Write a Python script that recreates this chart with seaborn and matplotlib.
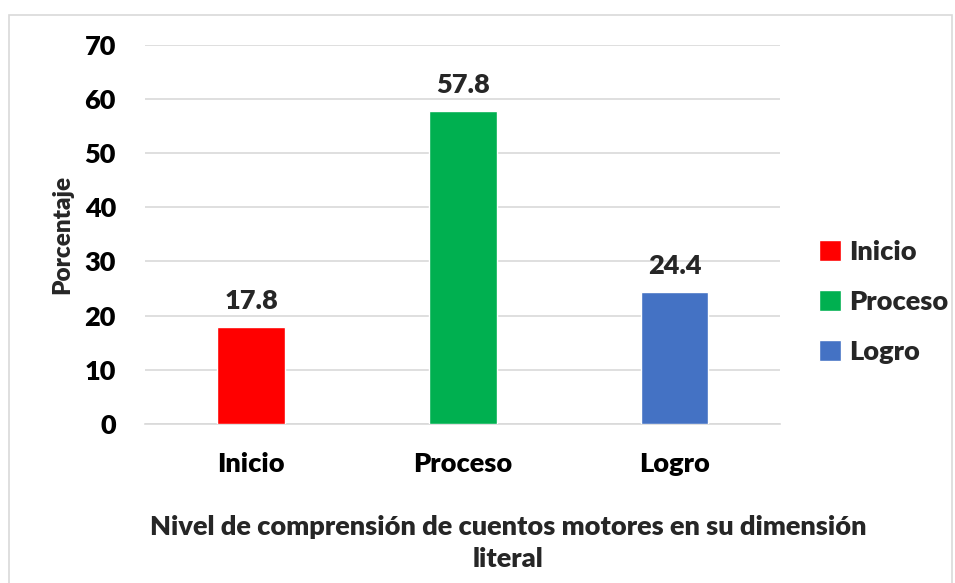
import pandas as pd
import matplotlib.pyplot as plt
import seaborn as sns
from matplotlib.patches import Rectangle, Patch

niveles = ['Inicio', 'Proceso', 'Logro']
porcentaje = [17.8, 57.8, 24.4]
colores = ['#FF0000', '#00B050', '#4472C4']

data = pd.DataFrame({'Nivel': niveles, 'Porcentaje': porcentaje})

sns.set_style('white')
plt.rcParams['font.family'] = ['Lato', 'DejaVu Sans']
plt.rcParams['font.weight'] = 'heavy'

fig = plt.figure(figsize=(9.55, 5.83), dpi=100)
ax = fig.add_axes([0.152, 0.273, 0.665, 0.650])

sns.barplot(x='Nivel', y='Porcentaje', hue='Nivel', data=data, palette=colores,
            width=0.32, saturation=1, legend=False, ax=ax, zorder=3)

ax.set_ylim(0, 70)
ax.set_xlim(-0.5, 2.5)
ax.set_yticks(range(0, 71, 10))
ax.yaxis.grid(True, color='#D9D9D9', linewidth=1.2, zorder=0)
for s in ['top', 'right', 'left']:
    ax.spines[s].set_visible(False)
ax.spines['bottom'].set_color('#D9D9D9')
ax.spines['bottom'].set_linewidth(1.2)
ax.tick_params(axis='y', length=0, labelsize=19.5, pad=21, labelcolor='black')
ax.tick_params(axis='x', length=0, labelsize=19.5, pad=20, labelcolor='black')
for lbl in ax.get_xticklabels() + ax.get_yticklabels():
    lbl.set_fontweight('heavy')

for i, v in enumerate(porcentaje):
    ax.text(i, v + 2.6, f'{v}', ha='center', va='bottom', fontsize=19.5, fontweight='heavy')

ax.set_ylabel('Porcentaje', fontsize=17.5, fontweight='heavy', labelpad=8)
ax.set_xlabel('Nivel de comprensión de cuentos motores en su dimensión\nliteral',
              fontsize=19.5, fontweight='heavy', linespacing=1.4)
ax.xaxis.set_label_coords(0.572, -0.24)

handles = [Patch(facecolor=c, label=n) for n, c in zip(niveles, colores)]
fig.legend(handles=handles, loc='center left', bbox_to_anchor=(0.832, 0.482),
           frameon=False, prop={'size': 19.5, 'weight': 'heavy'},
           handlelength=0.8, handleheight=0.8, handletextpad=0.3, labelspacing=0.95)

fig.patches.append(Rectangle((9 / 955, -0.01), 943 / 955, 1 - 15 / 583 + 0.01,
                             transform=fig.transFigure, fill=False,
                             edgecolor='#D9D9D9', linewidth=1.2))

fig.savefig('out.png', dpi=100)
